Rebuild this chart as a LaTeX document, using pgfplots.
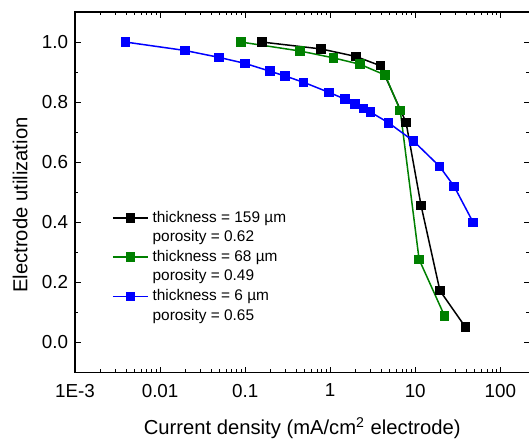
\documentclass[border=0pt]{standalone}
\usepackage{fontspec}
\setmainfont{Liberation Sans}
\usepackage{pgfplots}
\pgfplotsset{compat=1.18}
\usetikzlibrary{calc}
\definecolor{sgreen}{RGB}{0,128,0}
\definecolor{sblue}{RGB}{0,0,255}
\begin{document}
\begin{tikzpicture}
\begin{axis}[
    name=ax,
    scale only axis,
    width=227pt, height=180pt,
    xmode=log,
    xmin=0.001, xmax=220,
    ymin=-0.1, ymax=1.1,
    xtick={0.001,0.01,0.1,1,10,100},
    xticklabels={1E-3,0.01,0.1,1,10,100},
    ytick={0,0.2,0.4,0.6,0.8,1.0},
    minor y tick num=1,
    yticklabel style={/pgf/number format/.cd,fixed,fixed zerofill,precision=1,assume math mode=true},
    xticklabel style={yshift=-2.3pt},
    tick label style={font=\fontsize{9.4}{11}\selectfont},
    major tick length=2.75pt, minor tick length=1.5pt,
    tick style={black, line width=0.5pt},
    axis line style={line width=0.65pt},
    xlabel={Current density (mA/cm\textsuperscript{2} electrode)},
    ylabel={Electrode utilization},
    label style={font=\fontsize{10.1}{12}\selectfont},
    xlabel style={at={(axis description cs:0.5,-0.156)}, anchor=center},
    ylabel style={at={(axis description cs:-0.121,0.464)}, anchor=center},
    every axis plot/.append style={line width=0.75pt, mark=square*, mark size=2pt},
    legend image code/.code={\draw[mark repeat=2,mark phase=2] plot coordinates {(0pt,0pt) (8.75pt,0pt) (17.5pt,0pt)};},
    legend cell align=left,
    legend style={draw=none, fill=none, inner sep=0pt, outer sep=0pt,
        at={(axis description cs:0.0815,0.4556)}, anchor=north west,
        nodes={inner sep=0pt, text height=7pt, text depth=2.8pt, font=\fontsize{7.7}{9.8}\selectfont},
        column sep=2pt, row sep=0pt},
]
\addplot[black, mark options={fill=black}] coordinates {
    (0.157,1.0) (0.78,0.977) (2.0,0.952) (3.9,0.921) (7.8,0.732)
    (11.7,0.456) (19.5,0.172) (39,0.05)};
\addlegendentry{thickness = 159 µm}
\addlegendimage{empty legend}
\addlegendentry{porosity = 0.62}
\addplot[sgreen, mark options={fill=sgreen}] coordinates {
    (0.089,1.0) (0.444,0.970) (1.10,0.947) (2.23,0.926) (4.43,0.890)
    (6.66,0.772) (11.1,0.276) (22.1,0.088)};
\addlegendentry{thickness = 68 µm}
\addlegendimage{empty legend}
\addlegendentry{porosity = 0.49}
\addplot[sblue, mark options={fill=sblue}] coordinates {
    (0.0039,1.0) (0.0195,0.972) (0.049,0.949) (0.099,0.929) (0.195,0.903)
    (0.293,0.887) (0.486,0.866) (0.97,0.832) (1.49,0.810) (1.95,0.793)
    (2.47,0.779) (2.96,0.767) (4.86,0.731) (9.56,0.670) (19.3,0.586)
    (28.7,0.519) (48,0.399)};
\addlegendentry{thickness = 6 µm}
\addlegendimage{empty legend}
\addlegendentry{porosity = 0.65}
\end{axis}
\pgfresetboundingbox
\path ($(ax.south west)+(-37.5pt,-33pt)$) rectangle ($(ax.north east)+(-0.2pt,6pt)$);
\end{tikzpicture}
\end{document}
